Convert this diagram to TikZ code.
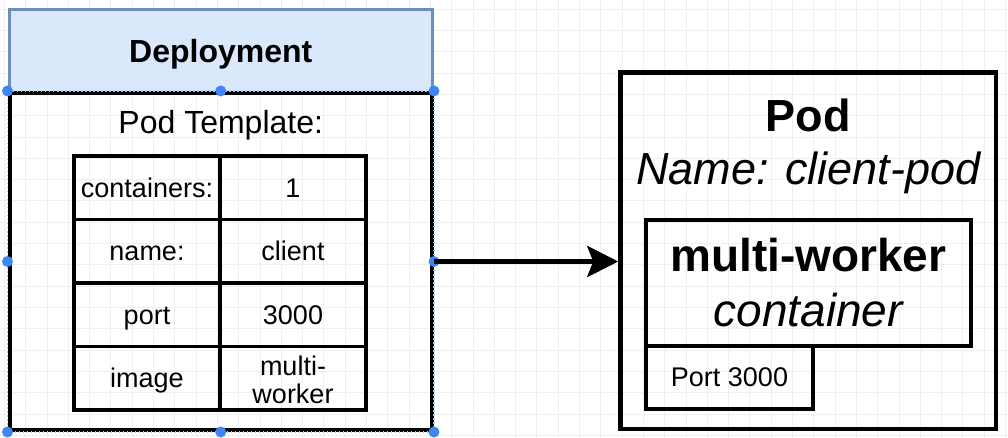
\documentclass[tikz,border=0pt]{standalone}
\usepackage{fontspec}
\setmainfont{Liberation Sans}
\usetikzlibrary{arrows.meta}
\definecolor{headfill}{HTML}{DAE8FC}
\definecolor{headline}{HTML}{6C8EBF}
\definecolor{handle}{HTML}{3F86F2}
\definecolor{gridline}{HTML}{EFEFEF}
\def\fsize#1{\fontsize{#1}{#1}\selectfont}
\tikzset{
	header/.style={draw=headline, fill=headfill, line width=3pt, inner sep=0pt, font=\fsize{32}\bfseries, text height=23pt, text depth=0pt},
	frame/.style={draw=black, line width=4pt, inner sep=0pt},
	cell/.style={draw=black, line width=3.5pt, inner sep=0pt, minimum width=146pt, minimum height=63.5pt, font=\fsize{27}, text height=19pt, text depth=0pt},
	label/.style={inner sep=0pt, anchor=base},
	link/.style={line width=5pt, -{Stealth[length=31pt, width=31pt, inset=6pt]}}
}

\begin{document}
\begin{tikzpicture}[x=1pt, y=-1pt]
			%%%%% START %%%%%
			
			\useasboundingbox[fill=white] (0, 0) rectangle (1008, 438);
			\foreach \gx in {0,...,47}
				\draw[gridline, line width=1pt] ({4.4+21.3*\gx}, 0) -- ({4.4+21.3*\gx}, 438);
			\foreach \gy in {0,...,20}
				\draw[gridline, line width=1pt] (0, {9.3+21.3*\gy}) -- (1008, {9.3+21.3*\gy});
			
			% deployment
			\node[header, minimum width=422.5pt, minimum height=83.5pt] (deploy) at (220.75, 51.25) {Deployment};
			\node[frame, minimum width=422.5pt, minimum height=337pt] (body) at (220.75, 261.5) {};
			\node[label, font=\fsize{32}] (tmpl) at (220.75, 133.3) {Pod Template:};
			
			\node[cell] (k1) at (147, 187.75) {containers:};
			\node[cell] (v1) at (293, 187.75) {1};
			\node[cell] (k2) at (147, 251.25) {name:};
			\node[cell] (v2) at (293, 251.25) {client};
			\node[cell] (k3) at (147, 314.75) {port};
			\node[cell] (v3) at (293, 314.75) {3000};
			\node[cell] (k4) at (147, 378.25) {image};
			\node[cell] (v4) at (293, 378.25) {};
			\node[inner sep=0pt, align=center, font=\fontsize{27}{28}\selectfont, yshift=-2pt] (v4text) at (v4) {multi-\\worker};
			
			% selection
			\draw[handle!45!white, line width=1.2pt, dash pattern=on 1.5pt off 2.5pt] (body.north west) rectangle (body.south east);
			\foreach \a in {north west, north, north east, east, west, south west, south, south east}
				\fill[handle] (body.\a) circle (5.5);
			
			% pod
			\node[frame, line width=4.5pt, minimum width=375.5pt, minimum height=356.5pt] (pod) at (808.25, 250.75) {};
			\node[label, font=\fsize{45}\bfseries] (podtitle) at (808.25, 131.7) {Pod};
			\node[label, font=\fsize{45}\itshape] (podname) at (808.25, 185) {Name: client-pod};
			
			\node[frame, minimum width=324.5pt, minimum height=125pt] (ctr) at (808.25, 283) {};
			\node[label, font=\fsize{46}\bfseries] (ctrtitle) at (808.25, 271.7) {multi-worker};
			\node[label, font=\fsize{46}\itshape] (ctrsub) at (808.25, 326) {container};
			\node[cell, line width=4pt, minimum width=167pt] (port) at (729.5, 377.25) {Port 3000};
			
			\draw[link] (body.east) -- (body.east -| pod.west);
			
			%%%%% END %%%%%
\end{tikzpicture}
\end{document}
